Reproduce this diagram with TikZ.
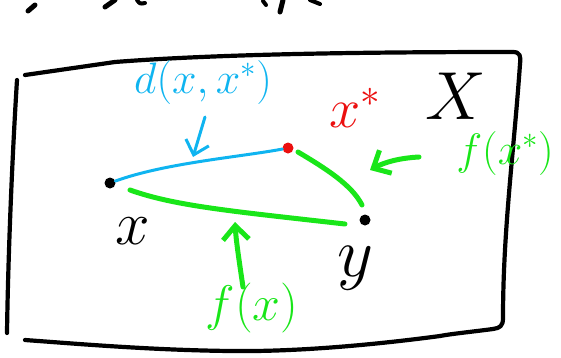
\RequirePackage{fix-cm}
\documentclass[tikz,border=0pt]{standalone}
\usetikzlibrary{arrows.meta}
\definecolor{skyb}{RGB}{15,180,240}
\definecolor{grn}{RGB}{25,230,25}
\definecolor{rd}{RGB}{235,15,15}
\begin{document}
\begin{tikzpicture}[x=1pt,y=-1pt,line cap=round,line join=round,
  dotnode/.style={circle,fill,inner sep=0pt,minimum size=11pt},
  boxline/.style={line width=4.2pt,black},
  greenline/.style={line width=5pt,grn},
  blueline/.style={line width=3pt,skyb},
  barrow/.style={-{Straight Barb[length=13pt,width=24pt,line width=3pt]}},
  garrow/.style={-{Straight Barb[length=14pt,width=26pt,line width=5pt]}},
  lbl/.style={inner sep=0pt,anchor=center}]
\useasboundingbox (0,0) rectangle (561,357);
% cut-off strokes at top
\draw[line width=5pt] (28,11) -- (35,5);
\draw[line width=5pt] (105,7) -- (115,0);
\draw[line width=4pt] (137,0) .. controls (140,4) .. (145,3);
\draw[line width=4pt] (263,1) -- (266,5);
\draw[line width=5pt] (283,0) -- (280,12);
\draw[line width=4pt] (310,0) -- (320,4);
% frame
\draw[boxline] (25,75) -- (115,62) .. controls (230,53) and (400,52) .. (513,52)
  .. controls (520,52) and (521,56) .. (520,64);
\draw[boxline] (520,64) .. controls (514,150) and (503,230) .. (503,318)
  .. controls (503,326) and (500,328) .. (493,329)
  .. controls (470,332) and (450,334) .. (440,336)
  .. controls (380,344) and (300,352) .. (230,351)
  .. controls (150,350) and (80,344) .. (25,340);
\draw[boxline] (17,80) .. controls (12,160) and (8,260) .. (7,333);
% points
\node[dotnode,black] (px) at (110,183) {};
\node[dotnode,rd] (pxs) at (288,148) {};
\node[dotnode,black] (py) at (365,220) {};
% connectors
\draw[blueline] (px) .. controls (165,163) and (240,157) .. (pxs);
\draw[greenline] (130,190) .. controls (175,206) and (230,211) .. (345,224);
\draw[greenline] (298,152) .. controls (325,168) and (352,185) .. (362,205);
% labels
\node[lbl,skyb] (ld) at (203,82) {\fontsize{44}{44}\selectfont$d(x,x^{*})$};
\node[lbl,rd] (lxs) at (355,108) {\fontsize{56}{56}\selectfont$x^{*}$};
\node[lbl] (lX) at (456,96) {\fontsize{68}{68}\selectfont$X$};
\node[lbl,grn] (lfxs) at (505,153) {\fontsize{44}{44}\selectfont$f(x^{*})$};
\node[lbl] (lx) at (133,231) {\fontsize{62}{62}\selectfont$x$};
\node[lbl] (ly) at (355,268) {\fontsize{70}{70}\selectfont$y$};
\node[lbl,grn] (lfx) at (252,308) {\fontsize{50}{50}\selectfont$f(x)$};
% arrows
\coordinate (bt) at (193,157);
\coordinate (gt1) at (370,170);
\coordinate (gt2) at (235,222);
\draw[blueline,barrow] (205,117) -- (bt);
\draw[greenline,garrow] (419,157) .. controls (400,158) and (385,162) .. (gt1);
\draw[greenline,garrow] (243,287) .. controls (239,260) and (236,240) .. (gt2);
\end{tikzpicture}
\end{document}
